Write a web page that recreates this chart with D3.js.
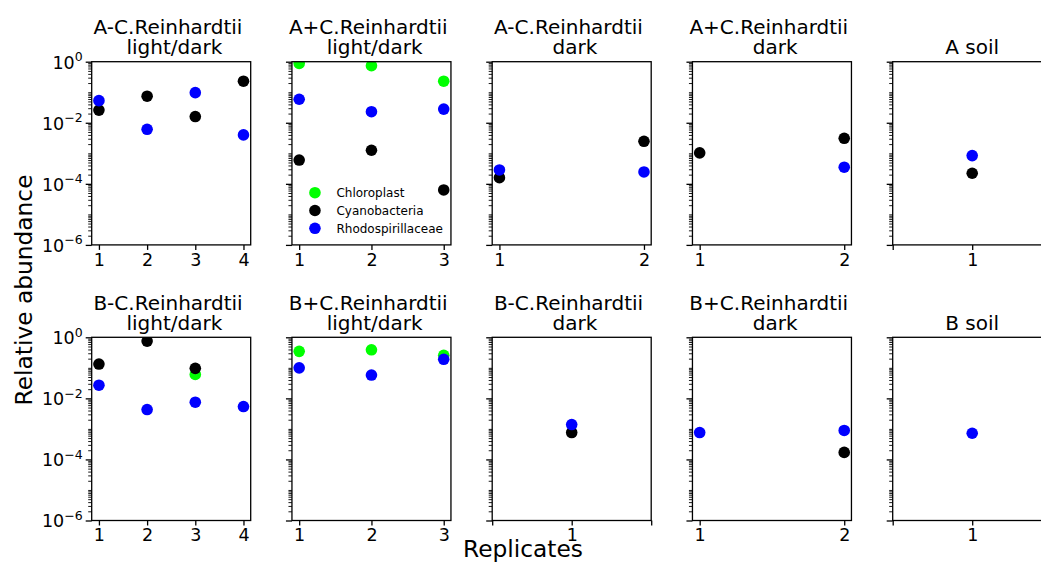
<!DOCTYPE html>
<html><head><meta charset="utf-8">
<script src="https://cdn.jsdelivr.net/npm/d3@7"></script>
<style>
body{margin:0;background:#fff}
text{font-family:"DejaVu Sans",sans-serif;fill:#000}
</style>
</head><body>
<svg id="chart" width="1041" height="562"></svg>
<script>
// ---------- data ----------
const panelTitles = [
  ["A-C.Reinhardtii ", " light/dark"],
  ["A+C.Reinhardtii ", " light/dark"],
  ["A-C.Reinhardtii ", " dark"],
  ["A+C.Reinhardtii ", " dark"],
  ["A soil"],
  ["B-C.Reinhardtii ", " light/dark"],
  ["B+C.Reinhardtii ", " light/dark"],
  ["B-C.Reinhardtii ", " dark"],
  ["B+C.Reinhardtii ", " dark"],
  ["B soil"]
];
const replicateCounts = [4, 3, 2, 2, 1, 4, 3, 1, 2, 1];
const seriesNames = ["Chloroplast", "Cyanobacteria", "Rhodospirillaceae"];
const seriesColors = ["#00ff00", "#000000", "#0000ff"];
const chloroplast = [
  [null, null, null, null],
  [0.88, 0.74, 0.23],
  [null, null],
  [null, null],
  [null],
  [null, null, 0.061, null],
  [0.347, 0.39, 0.257],
  [null],
  [null, null],
  [null]
];
const cyanobacteria = [
  [0.026, 0.074, 0.016, 0.23],
  [0.00060, 0.00126, 0.000063],
  [0.000159, 0.00247],
  [0.00103, 0.0031],
  [0.000222],
  [0.133, 0.75, 0.096, null],
  [null, null, null],
  [0.00076],
  [null, 0.00017],
  [null]
];
const rhodospirillaceae = [
  [0.053, 0.0061, 0.097, 0.0040],
  [0.059, 0.023, 0.028],
  [0.000285, 0.000245],
  [null, 0.00035],
  [0.00084],
  [0.027, 0.0043, 0.0075, 0.0054],
  [0.100, 0.058, 0.19],
  [0.00139],
  [0.00076, 0.00089],
  [0.00072]
];
const yMajorTicks = [1, 1e-2, 1e-4, 1e-6];
const yMajorExponents = ["0", "\u22122", "\u22124", "\u22126"];
const yLabel = "Relative abundance";
const xLabel = "Replicates";

// ---------- layout ----------
const svg = d3.select("#chart");
svg.append("rect").attr("width", 1041).attr("height", 562).attr("fill", "#fff");
const colLeft0 = 91.7, colStep = 200.25, panelW = 159;
const rowTops = [61.7, 337.3], panelH = 183.2;
const allSeries = [chloroplast, cyanobacteria, rhodospirillaceae];

const minorTicks = [];
for (let k = -6; k < 0; k++) {
  for (let m = 1; m <= 9; m++) {
    const v = m * Math.pow(10, k);
    if (m === 1 && (k % 2 === 0)) continue;
    minorTicks.push(v);
  }
}

panelTitles.forEach((title, i) => {
  const row = Math.floor(i / 5), col = i % 5;
  const left = colLeft0 + col * colStep, top = rowTops[row];
  const n = replicateCounts[i];
  const g = svg.append("g").attr("transform", `translate(${left},${top})`);

  let xDomain, xTicks;
  if (n === 1) { xDomain = [0, 2]; xTicks = [0, 1, 2]; }
  else { const m = 0.05 * (n - 1); xDomain = [1 - m, n + m]; xTicks = d3.range(1, n + 1); }
  const x = d3.scaleLinear().domain(xDomain).range([0, panelW]);
  const y = d3.scaleLog().domain([1e-6, 1]).range([panelH, 0]);

  const clipId = "clip" + i;
  g.append("clipPath").attr("id", clipId).append("rect")
    .attr("width", panelW).attr("height", panelH);

  // minor y ticks
  const gMinor = g.append("g").call(d3.axisLeft(y).tickValues(minorTicks).tickSize(3.5).tickFormat(() => ""));
  gMinor.select(".domain").remove();
  gMinor.selectAll("line").attr("stroke-width", 0.9);

  // major y ticks
  const gMajor = g.append("g").call(d3.axisLeft(y).tickValues(yMajorTicks).tickSize(6).tickPadding(3).tickFormat(() => ""));
  gMajor.select(".domain").remove();
  gMajor.selectAll("line").attr("stroke-width", 1.3);
  if (col === 0) {
    gMajor.selectAll(".tick text").each(function(d) {
      const t = d3.select(this);
      const idx = yMajorTicks.indexOf(d);
      t.text(null).attr("font-size", 17.5).attr("dy", "0.36em");
      t.append("tspan").text("10");
      t.append("tspan").attr("dy", -7.5).attr("font-size", 12.5).text(yMajorExponents[idx]);
    });
  }

  // x axis
  const gx = g.append("g").attr("transform", `translate(0,${panelH})`)
    .call(d3.axisBottom(x).tickValues(xTicks).tickSize(5).tickPadding(3.5)
      .tickFormat(d => (n === 1 && d !== 1) ? "" : String(d)));
  gx.select(".domain").remove();
  gx.selectAll("line").attr("stroke-width", 1.3);
  gx.selectAll("text").attr("font-size", 17.5);

  // points
  const pts = g.append("g").attr("clip-path", `url(#${clipId})`);
  allSeries.forEach((series, s) => {
    const vals = series[i];
    pts.selectAll(null)
      .data(vals.map((v, j) => ({ r: j + 1, v })).filter(d => d.v != null))
      .join("circle")
      .attr("cx", d => x(d.r))
      .attr("cy", d => y(d.v))
      .attr("r", 5.8)
      .attr("fill", seriesColors[s]);
  });

  // frame
  g.append("rect").attr("width", panelW).attr("height", panelH)
    .attr("fill", "none").attr("stroke", "#000").attr("stroke-width", 1.3);

  // title
  const tt = g.append("text").attr("text-anchor", "middle").attr("font-size", 20)
    .style("white-space", "pre");
  if (title.length === 2) {
    tt.append("tspan").attr("x", panelW / 2).attr("y", -27.5).text(title[0]);
    tt.append("tspan").attr("x", panelW / 2).attr("y", -7.5).text(title[1]);
  } else {
    tt.append("tspan").attr("x", panelW / 2).attr("y", -7.5).text(title[0]);
  }

  // legend in second panel
  if (i === 1) {
    const lg = g.append("g").attr("transform", `translate(23,131)`);
    seriesNames.forEach((name, s) => {
      lg.append("circle").attr("cx", 0).attr("cy", s * 17.8).attr("r", 5.8).attr("fill", seriesColors[s]);
      lg.append("text").attr("x", 21.5).attr("y", s * 17.8 + 4.3).attr("font-size", 12).text(name);
    });
  }
});

// axis labels
svg.append("text").attr("transform", "translate(32,290) rotate(-90)")
  .attr("text-anchor", "middle").attr("font-size", 23.3).text(yLabel);
svg.append("text").attr("x", 523).attr("y", 556.5)
  .attr("text-anchor", "middle").attr("font-size", 23.3).text(xLabel);
</script>
</body></html>
